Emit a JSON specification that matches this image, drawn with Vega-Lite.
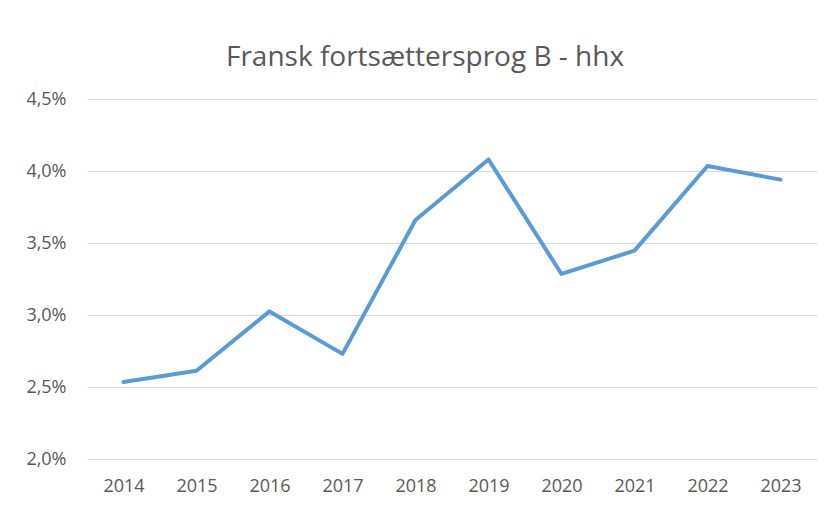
{
  "$schema": "https://vega.github.io/schema/vega-lite/v6.json",
  "width": 730,
  "height": 360,
  "autosize": {"type": "none"},
  "padding": {"left": 87, "top": 99, "right": 12, "bottom": 46},
  "background": "white",
  "title": {
    "text": "Fransk fortsættersprog B - hhx",
    "font": "Open Sans",
    "fontSize": 28,
    "fontWeight": "normal",
    "color": "#595959",
    "anchor": "middle",
    "frame": "group",
    "baseline": "alphabetic",
    "offset": 0,
    "dx": -27,
    "dy": 4
  },
  "data": {
    "values": [
      {"year": "2014", "share": 0.02535},
      {"year": "2015", "share": 0.02613},
      {"year": "2016", "share": 0.03025},
      {"year": "2017", "share": 0.0273},
      {"year": "2018", "share": 0.0366},
      {"year": "2019", "share": 0.0408},
      {"year": "2020", "share": 0.03285},
      {"year": "2021", "share": 0.03447},
      {"year": "2022", "share": 0.04035},
      {"year": "2023", "share": 0.0394}
    ]
  },
  "mark": {"type": "line", "color": "#5B9BD5", "strokeWidth": 4, "strokeCap": "round", "strokeJoin": "round"},
  "encoding": {
    "x": {
      "field": "year",
      "type": "ordinal",
      "scale": {"type": "point", "padding": 0.5},
      "axis": {
        "title": null,
        "labelAngle": 0,
        "ticks": false,
        "domain": false,
        "grid": false,
        "labelPadding": 18,
        "labelFont": "Open Sans",
        "labelFontSize": 18,
        "labelColor": "#595959"
      }
    },
    "y": {
      "field": "share",
      "type": "quantitative",
      "scale": {"domain": [0.02, 0.045], "nice": false, "zero": false},
      "axis": {
        "title": null,
        "values": [0.02, 0.025, 0.03, 0.035, 0.04, 0.045],
        "labelExpr": "replace(format(datum.value, '.1%'), '.', ',')",
        "ticks": false,
        "domain": false,
        "grid": true,
        "gridColor": "#d9d9d9",
        "gridWidth": 1,
        "labelPadding": 21,
        "labelFont": "Open Sans",
        "labelFontSize": 18,
        "labelColor": "#595959"
      }
    }
  },
  "config": {"view": {"stroke": null}}
}
